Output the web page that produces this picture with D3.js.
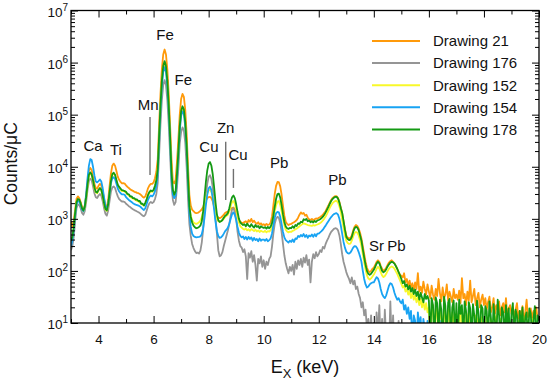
<!DOCTYPE html>
<html><head><meta charset="utf-8">
<script src="https://cdn.jsdelivr.net/npm/d3@7"></script>
<style>
body{margin:0;background:#fff}
svg{display:block}
text{font-family:"Liberation Sans",Arial,Helvetica,sans-serif;fill:#111}
</style>
</head><body>
<svg id="c" width="550" height="382"></svg>
<script>
// Energy channels (keV)
const energy = [
3.00,3.05,3.10,3.15,3.20,3.25,3.30,3.35,3.40,3.45,3.50,3.55,3.60,3.65,3.70,3.75,3.80,3.85,3.90,3.95,
4.00,4.05,4.10,4.15,4.20,4.25,4.30,4.35,4.40,4.45,4.50,4.55,4.60,4.65,4.70,4.75,4.80,4.85,4.90,4.95,
5.00,5.05,5.10,5.15,5.20,5.25,5.30,5.35,5.40,5.45,5.50,5.55,5.60,5.65,5.70,5.75,5.80,5.85,5.90,5.95,
6.00,6.05,6.10,6.15,6.20,6.25,6.30,6.35,6.40,6.45,6.50,6.55,6.60,6.65,6.70,6.75,6.80,6.85,6.90,6.95,
7.00,7.05,7.10,7.15,7.20,7.25,7.30,7.35,7.40,7.45,7.50,7.55,7.60,7.65,7.70,7.75,7.80,7.85,7.90,7.95,
8.00,8.05,8.10,8.15,8.20,8.25,8.30,8.35,8.40,8.45,8.50,8.55,8.60,8.65,8.70,8.75,8.80,8.85,8.90,8.95,
9.00,9.05,9.10,9.15,9.20,9.25,9.30,9.35,9.40,9.45,9.50,9.55,9.60,9.65,9.70,9.75,9.80,9.85,9.90,9.95,
10.00,10.05,10.10,10.15,10.20,10.25,10.30,10.35,10.40,10.45,10.50,10.55,10.60,10.65,10.70,10.75,10.80,10.85,10.90,10.95,
11.00,11.05,11.10,11.15,11.20,11.25,11.30,11.35,11.40,11.45,11.50,11.55,11.60,11.65,11.70,11.75,11.80,11.85,11.90,11.95,
12.00,12.05,12.10,12.15,12.20,12.25,12.30,12.35,12.40,12.45,12.50,12.55,12.60,12.65,12.70,12.75,12.80,12.85,12.90,12.95,
13.00,13.05,13.10,13.15,13.20,13.25,13.30,13.35,13.40,13.45,13.50,13.55,13.60,13.65,13.70,13.75,13.80,13.85,13.90,13.95,
14.00,14.05,14.10,14.15,14.20,14.25,14.30,14.35,14.40,14.45,14.50,14.55,14.60,14.65,14.70,14.75,14.80,14.85,14.90,14.95,
15.00,15.05,15.10,15.15,15.20,15.25,15.30,15.35,15.40,15.45,15.50,15.55,15.60,15.65,15.70,15.75,15.80,15.85,15.90,15.95,
16.00,16.05,16.10,16.15,16.20,16.25,16.30,16.35,16.40,16.45,16.50,16.55,16.60,16.65,16.70,16.75,16.80,16.85,16.90,16.95,
17.00,17.05,17.10,17.15,17.20,17.25,17.30,17.35,17.40,17.45,17.50,17.55,17.60,17.65,17.70,17.75,17.80,17.85,17.90,17.95,
18.00,18.05,18.10,18.15,18.20,18.25,18.30,18.35,18.40,18.45,18.50,18.55,18.60,18.65,18.70,18.75,18.80,18.85,18.90,18.95,
19.00,19.05,19.10,19.15,19.20,19.25,19.30,19.35,19.40,19.45,19.50,19.55,19.60,19.65,19.70,19.75,19.80,19.85,19.90,19.95,
20.00];

// Counts/uC per drawing
const drawing21 = [
900,700,900,1500,2400,2700,2500,2100,1700,1550,1800,2800,5000,8300,9500,8700,6500,4700,3900,3800,
4300,4700,4400,3400,2400,1800,1650,2300,4200,7400,10500,11500,10500,8300,6400,5600,5100,4800,4850,4750,
4400,4100,3900,3700,3550,3450,3300,3250,3150,3100,3000,2850,2650,2550,2700,3200,3900,4400,4700,4700,
5000,6000,8000,14000,62000,250000,740000,1430000,1780000,1430000,740000,250000,62000,14000,5200,4800,5600,12500,34000,100000,
200000,250000,220000,125000,44000,10500,2900,1800,1500,1400,1320,1290,1300,1350,1420,1520,1700,1950,2250,2500,
2600,2650,2500,2150,1700,1350,1150,1050,1030,1060,1120,1200,1300,1350,1380,1450,1550,1620,1650,1550,
1350,1150,950,880,850,830,870,900,810,950,880,1000,860,920,840,800,860,780,820,760,
790,740,800,760,780,850,1100,1800,3000,4300,5100,5050,4200,2900,1800,1150,880,800,760,790,
800,830,860,900,950,1050,1200,1330,1250,1300,1150,1200,1050,980,950,1000,940,980,1020,1000,
1050,1080,1130,1200,1300,1420,1600,1800,2050,2300,2500,2650,2720,2720,2500,2100,1650,1300,900,640,
480,440,420,430,480,600,700,760,730,650,540,420,300,210,150,115,100,95,100,110,
115,130,150,160,150,125,110,100,105,115,130,145,155,160,150,140,125,110,95,85,
80,75,90,60,70,52,65,48,58,42,60,45,91,40,50,38,62,45,35,55,
40,30,52,35,28,45,33,70,38,26,48,30,35,55,27,40,32,25,45,30,
35,28,42,24,73,30,36,22,40,27,65,25,33,45,22,30,38,20,28,35,
22,30,18,25,32,16,20,30,15,22,18,26,14,20,24,16,30,13,19,22,
15,20,13,18,24,12,17,14,21,11,16,28,13,15,19,12,17,14,20,12,
13];

const drawing176 = [
250,300,450,900,1600,1900,1850,1600,1300,1200,1400,2100,3600,5300,5900,5500,4200,3100,2600,2500,
2800,3000,2800,2200,1600,1250,1150,1450,2200,3300,4000,4200,3900,3200,2700,2400,2250,2150,2150,2100,
1950,1850,1750,1680,1600,1530,1470,1430,1380,1340,1290,1220,1150,1120,1200,1450,1750,2000,2100,2000,
2100,2400,3000,4900,17000,65000,190000,370000,460000,370000,190000,65000,17000,4500,2300,1850,2100,4000,9500,28000,
46000,57000,50000,29000,10000,2500,800,470,330,275,240,220,225,215,245,350,620,1360,2750,4700,
6400,6900,5830,3920,2150,1030,520,250,190,200,230,300,380,480,600,800,1150,1500,1600,1350,
1000,560,380,300,280,230,260,190,70,220,180,240,150,200,130,65,170,140,190,120,
160,110,150,130,170,190,290,520,800,1000,1090,1050,820,560,330,200,140,110,90,120,
100,130,85,150,110,160,130,170,120,180,145,200,130,165,60,150,210,175,230,190,
210,250,230,290,270,330,380,430,500,560,600,640,660,650,600,480,330,210,150,120,
95,80,70,58,75,55,65,45,50,36,30,20,25,14,18,8,12,5,14,4,
10,3,16,6,22,4,12,3,18,5,8,3,26,4,14,3,7,3,11,3,
2,2,2,2,2,2,2,2,2,2,2,2,2,2,2,2,2,2,2,2,
2,2,2,2,2,2,2,2,2,2,2,2,2,2,2,2,2,2,2,2,
2,2,2,2,2,2,2,2,2,2,2,2,2,2,2,2,2,2,2,2,
2,2,2,2,2,2,2,2,2,2,2,2,2,2,2,2,2,2,2,2,
2,2,2,2,2,2,2,2,2,2,2,2,2,2,2,2,2,2,2,2,
2];

const drawing152 = [
340,420,650,1250,2000,2300,2250,1900,1550,1400,1650,2500,4300,6700,7500,6900,5300,3850,3200,3100,
3500,3800,3500,2700,1950,1500,1420,1850,3100,5100,7000,7500,6800,5400,4350,3900,3600,3400,3450,3400,
3150,2950,2800,2650,2550,2450,2350,2300,2200,2150,2050,1950,1850,1800,1950,2300,2800,3150,3350,3300,
3500,4100,5200,8500,34000,135000,400000,780000,960000,780000,400000,135000,34000,7500,3500,2800,3200,7000,18000,54000,
105000,130000,115000,66000,23000,5700,1650,1150,950,850,820,800,820,860,920,1080,1400,1900,2500,3100,
3500,3600,3300,2600,1800,1250,1000,900,880,900,940,1000,1100,1150,1200,1400,1750,2100,2200,1950,
1550,1100,850,720,680,640,620,650,600,630,590,640,610,580,620,570,600,560,590,570,
560,590,550,580,570,600,700,950,1400,1800,2150,2200,1850,1400,1000,750,620,570,550,570,
560,590,600,630,650,680,720,750,790,820,800,780,760,750,740,730,760,740,760,780,
800,830,870,930,1010,1110,1250,1420,1620,1820,2000,2120,2200,2200,2050,1720,1350,960,680,480,
380,345,330,335,380,460,530,560,545,480,390,300,210,145,105,82,72,68,72,78,
85,96,110,120,112,95,82,76,80,88,100,110,118,122,118,110,98,88,76,66,
56,48,52,40,45,35,42,30,38,28,34,25,31,22,29,20,26,18,24,16,
20,4,18,22,5,15,19,4,21,13,5,17,14,4,18,12,5,16,11,4,
15,4,12,17,5,10,14,4,13,16,5,11,9,4,14,12,5,10,13,4,
11,5,13,9,4,12,10,5,11,14,4,9,12,5,10,8,4,11,9,5,
10,4,12,8,5,11,9,4,10,13,5,8,11,4,9,12,5,10,8,4,
9];

const drawing154 = [
300,380,600,1150,1900,2200,2150,1850,1500,1400,1750,3000,6000,10500,14000,13500,10000,6800,5200,5000,
5300,5700,5200,3900,2600,1800,1550,1900,3000,4800,6000,6300,5800,4700,3800,3350,3100,2950,2950,2900,
2600,2450,2300,2200,2100,2000,1920,1870,1830,1790,1740,1650,1550,1480,1600,1950,2350,2650,2800,2700,
2900,3400,4300,7000,29000,115000,340000,660000,820000,660000,340000,115000,29000,6000,2900,2500,2800,5800,16000,48000,
94000,116000,102000,58000,21000,5000,1300,700,520,470,450,440,445,450,460,505,660,1060,1840,2920,
3865,4150,3550,2480,1490,870,580,470,430,440,470,520,580,620,680,800,1000,1230,1330,1200,
950,700,540,470,440,460,410,450,400,450,410,440,380,430,390,410,370,420,380,400,
400,380,410,370,390,420,520,750,1050,1280,1360,1330,1100,800,560,440,390,370,350,380,
360,400,360,420,410,470,450,490,460,510,450,490,430,480,460,500,450,510,460,520,
520,550,580,620,680,740,820,900,990,1080,1160,1230,1270,1280,1200,1000,750,520,360,280,
235,220,215,225,250,280,300,295,270,230,190,150,100,70,55,48,50,55,58,60,
60,68,76,72,60,45,36,32,30,34,42,52,58,56,48,38,32,28,30,26,
24,28,18,22,15,20,12,17,5,14,11,4,16,9,13,3,12,8,4,11,
3,10,7,3,12,4,8,3,2,11,3,6,2,9,3,2,7,2,3,2,
2,2,6,2,2,2,8,2,2,2,2,5,2,2,2,2,2,2,2,2,
2,2,2,2,2,2,2,2,2,2,2,2,2,2,2,2,2,2,2,2,
2,2,2,2,2,2,2,2,2,2,2,2,2,2,2,2,2,2,2,2,
2];

const drawing178 = [
380,450,700,1300,2100,2400,2350,2000,1600,1450,1700,2600,4500,7000,7800,7200,5500,4000,3300,3200,
3600,3900,3600,2800,2000,1550,1450,1900,3200,5300,7200,7700,7000,5600,4500,4100,3800,3550,3500,3400,
3300,3000,2950,2700,2700,2500,2500,2350,2350,2200,2200,1950,1950,1800,2050,2400,2900,3300,3500,3400,
3600,4300,5500,9000,38000,150000,445000,860000,1070000,860000,445000,150000,38000,8000,3600,2900,3400,7400,20000,60000,
117000,145000,127000,73000,26000,6300,1750,1100,850,740,690,660,670,700,740,890,1390,2650,5100,8500,
11450,12300,10450,7100,4000,2080,1220,945,870,900,950,1050,1150,1200,1300,1600,2100,2600,2800,2500,
1900,1350,1000,850,800,760,790,720,810,740,700,790,720,680,760,700,730,660,720,690,
670,690,650,700,660,710,825,1135,1700,2430,2990,3050,2570,1840,1230,870,715,660,640,670,
660,720,670,760,730,820,800,880,860,980,950,1000,900,930,860,900,850,910,870,930,
950,980,1030,1100,1200,1330,1500,1700,1950,2200,2400,2550,2640,2640,2450,2050,1600,1300,900,620,
450,410,390,400,450,560,660,700,680,600,480,380,260,180,130,100,88,84,88,96,
105,120,138,150,140,118,100,94,98,108,122,134,144,150,146,138,124,110,95,82,
70,58,64,50,55,44,52,40,47,36,44,33,40,28,38,31,25,36,29,33,
27,5,30,22,4,31,24,6,28,18,3,32,21,5,25,29,4,20,27,5,
24,4,28,15,22,5,26,17,3,25,19,5,23,14,4,27,16,5,22,19,
4,21,17,5,26,13,4,23,11,5,28,14,4,20,16,5,22,9,19,4,
15,24,5,18,14,4,17,8,20,5,13,16,4,19,15,5,12,21,4,14,
11];

const seriesNames = ["Drawing 21","Drawing 176","Drawing 152","Drawing 154","Drawing 178"];
const seriesColors = ["#ff9a0a","#959595","#f8f82a","#17a3f3","#149a14"];
const seriesValues = [drawing21, drawing176, drawing152, drawing154, drawing178];

const xMajorTicks = [4,6,8,10,12,14,16,18,20];
const xMinorTicks = [3,5,7,9,11,13,15,17,19];
const yDecades = [10,100,1000,10000,100000,1000000,10000000];
const yExponents = ["1","2","3","4","5","6","7"];

// peak annotations (energy keV, counts)
const peakLabels = [
  {t:"Ca", e:3.80, c:20400},
  {t:"Ti", e:4.63, c:16800},
  {t:"Mn", e:5.80, c:123000},
  {t:"Fe", e:6.415, c:2.72e6},
  {t:"Fe", e:7.08, c:372000},
  {t:"Cu", e:8.01, c:19500},
  {t:"Zn", e:8.62, c:44600},
  {t:"Cu", e:9.07, c:13500},
  {t:"Pb", e:10.56, c:9500},
  {t:"Pb", e:12.68, c:4470},
  {t:"Sr", e:14.10, c:245},
  {t:"Pb", e:14.82, c:245}
];
const peakLeaders = [
  {e:5.87, c1:90400, c2:6950},
  {e:8.62, c1:30300, c2:2300},
  {e:8.90, c1:9080, c2:3920}
];

const L=71, R=539, T=10.5, B=323;
const x = d3.scaleLinear().domain([3,20]).range([L,R]);
const y = d3.scaleLog().domain([10,1e7]).range([B,T]);
const svg = d3.select("#c");

svg.append("defs").append("clipPath").attr("id","clip")
  .append("rect").attr("x",L).attr("y",T).attr("width",R-L).attr("height",B-T);

const line = d3.line()
  .x((d,i)=>x(energy[i]))
  .y(d=>y(Math.max(d,1)));

const gS = svg.append("g").attr("clip-path","url(#clip)");
seriesValues.forEach((vals,k)=>{
  gS.append("path").datum(vals)
    .attr("d",line)
    .attr("fill","none")
    .attr("stroke",seriesColors[k])
    .attr("stroke-width",1.8)
    .attr("stroke-linejoin","round");
});

// axes (inward ticks)
function styleAxis(g){ g.select(".domain").remove(); g.selectAll("line").attr("stroke","#000").attr("stroke-width",1); }
const minorY = [];
for(let d=1; d<7; d++){ for(let k=2;k<10;k++) minorY.push(k*Math.pow(10,d)); }

svg.append("g").attr("transform",`translate(0,${B})`)
  .call(d3.axisBottom(x).tickValues(xMajorTicks).tickSize(-7).tickPadding(11).tickFormat(d3.format("d")))
  .call(styleAxis)
  .call(g=>g.selectAll("text").attr("font-size",13.5).attr("fill","#111").attr("font-family","Liberation Sans, Arial, sans-serif"));
svg.append("g").attr("transform",`translate(0,${B})`)
  .call(d3.axisBottom(x).tickValues(xMinorTicks).tickSize(-4).tickFormat(""))
  .call(styleAxis);
svg.append("g").attr("transform",`translate(0,${T})`)
  .call(d3.axisTop(x).tickValues(xMajorTicks).tickSize(-7).tickFormat(""))
  .call(styleAxis);
svg.append("g").attr("transform",`translate(0,${T})`)
  .call(d3.axisTop(x).tickValues(xMinorTicks).tickSize(-4).tickFormat(""))
  .call(styleAxis);

svg.append("g").attr("transform",`translate(${L},0)`)
  .call(d3.axisLeft(y).tickValues(yDecades).tickSize(-7).tickFormat(""))
  .call(styleAxis);
svg.append("g").attr("transform",`translate(${L},0)`)
  .call(d3.axisLeft(y).tickValues(minorY).tickSize(-4).tickFormat(""))
  .call(styleAxis);
svg.append("g").attr("transform",`translate(${R},0)`)
  .call(d3.axisRight(y).tickValues(yDecades).tickSize(-7).tickFormat(""))
  .call(styleAxis);
svg.append("g").attr("transform",`translate(${R},0)`)
  .call(d3.axisRight(y).tickValues(minorY).tickSize(-4).tickFormat(""))
  .call(styleAxis);

// y labels 10^n
yDecades.forEach((v,i)=>{
  const t = svg.append("text").attr("x",L-3).attr("y",y(v)+6)
    .attr("text-anchor","end").attr("font-size",13.5).text("10");
  t.append("tspan").attr("dy",-6).attr("font-size",10).text(yExponents[i]);
});

// frame
svg.append("rect").attr("x",L).attr("y",T).attr("width",R-L).attr("height",B-T)
  .attr("fill","none").attr("stroke","#000").attr("stroke-width",1.3);

// axis titles
const xt = svg.append("text").attr("x",(L+R)/2).attr("y",373).attr("text-anchor","middle").attr("font-size",18);
xt.append("tspan").text("E");
xt.append("tspan").attr("font-size",13).attr("dy",5).text("X");
xt.append("tspan").attr("dy",-5).text(" (keV)");

svg.append("text").attr("transform",`translate(17,${(T+B)/2-3}) rotate(-90)`)
  .attr("text-anchor","middle").attr("font-size",17.5).text("Counts/\u03bcC");

// peak labels
peakLabels.forEach(p=>{
  svg.append("text").attr("x",x(p.e)).attr("y",y(p.c)).attr("text-anchor","middle")
    .attr("font-size",15).text(p.t);
});
peakLeaders.forEach(p=>{
  svg.append("line").attr("x1",x(p.e)).attr("x2",x(p.e)).attr("y1",y(p.c1)).attr("y2",y(p.c2))
    .attr("stroke","#707070").attr("stroke-width",1.4);
});

// legend
const lg = svg.append("g");
seriesNames.forEach((n,i)=>{
  const yy = 41 + i*22.1;
  lg.append("line").attr("x1",372).attr("x2",420).attr("y1",yy).attr("y2",yy)
    .attr("stroke",seriesColors[i]).attr("stroke-width",2);
  lg.append("text").attr("x",433).attr("y",yy+5.3).attr("font-size",15).text(n);
});
</script>
</body></html>
